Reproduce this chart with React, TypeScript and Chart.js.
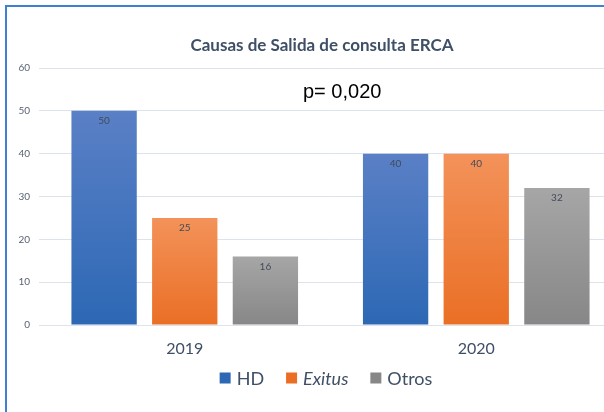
import React, { useEffect, useRef } from "react";
import { Chart, registerables } from "chart.js";

Chart.register(...registerables);

const categories = ["2019", "2020"];
const seriesNames = ["HD", "Exitus", "Otros"];
const hdValues = [50, 40];
const exitusValues = [25, 40];
const otrosValues = [16, 32];
const yTicks = [0, 10, 20, 30, 40, 50, 60];
const titleText = "Causas de Salida de consulta ERCA";
const pText = "p= 0,020";

const gradStops: [string, string][] = [
  ["#5a80c6", "#2d68b4"],
  ["#f3925a", "#ea6f25"],
  ["#a6a6a6", "#878787"],
];

const FONT = "Lato, 'Open Sans', sans-serif";
const TEXT_DARK = "#3f4f66";

function makeBg(dsIndex: number) {
  return (ctx: any) => {
    const chart = ctx.chart;
    const ys = chart.scales?.y;
    if (!ys || ctx.raw == null) return gradStops[dsIndex][1];
    const top = ys.getPixelForValue(ctx.raw);
    const bottom = ys.getPixelForValue(0);
    if (!isFinite(top) || !isFinite(bottom) || top === bottom) return gradStops[dsIndex][1];
    const g = chart.ctx.createLinearGradient(0, top, 0, bottom);
    g.addColorStop(0, gradStops[dsIndex][0]);
    g.addColorStop(1, gradStops[dsIndex][1]);
    return g;
  };
}

const overlayPlugin = {
  id: "overlay",
  afterDatasetsDraw(chart: any) {
    const { ctx } = chart;
    ctx.save();
    ctx.font = `10px ${FONT}`;
    ctx.fillStyle = "#404b5a";
    ctx.textAlign = "center";
    ctx.textBaseline = "middle";
    chart.data.datasets.forEach((ds: any, i: number) => {
      const meta = chart.getDatasetMeta(i);
      meta.data.forEach((bar: any, j: number) => {
        ctx.fillText(String(ds.data[j]), bar.x, bar.y + 10);
      });
    });
    ctx.restore();
  },
  afterDraw(chart: any) {
    const { ctx, chartArea } = chart;
    ctx.save();
    // title
    ctx.font = `bold 17px ${FONT}`;
    ctx.fillStyle = TEXT_DARK;
    ctx.textAlign = "center";
    ctx.textBaseline = "middle";
    ctx.fillText(titleText, 322, 46);
    // p-value
    ctx.font = "20px 'Liberation Sans', Arial, sans-serif";
    ctx.fillStyle = "#000000";
    ctx.textAlign = "left";
    ctx.textBaseline = "alphabetic";
    ctx.fillText(pText, 303, 98);
    // legend
    const cy = chartArea.bottom + 53;
    const box = 11;
    const gapText = 6;
    const gapItem = 22;
    const widths = seriesNames.map((n, i) => {
      ctx.font = `${i === 1 ? "italic " : ""}18px ${FONT}`;
      return ctx.measureText(n).width;
    });
    const total =
      widths.reduce((a, w) => a + box + gapText + w, 0) + gapItem * (seriesNames.length - 1);
    let x = 326 - total / 2;
    seriesNames.forEach((n, i) => {
      ctx.fillStyle = gradStops[i][1];
      ctx.fillRect(x, cy - box / 2, box, box);
      x += box + gapText;
      ctx.font = `${i === 1 ? "italic " : ""}18px ${FONT}`;
      ctx.fillStyle = TEXT_DARK;
      ctx.textAlign = "left";
      ctx.textBaseline = "middle";
      ctx.fillText(n, x, cy + 1);
      x += widths[i] + gapItem;
    });
    ctx.restore();
  },
};

export default function App() {
  const ref = useRef<HTMLCanvasElement | null>(null);
  useEffect(() => {
    if (!ref.current) return;
    const chart = new Chart(ref.current, {
      type: "bar",
      data: {
        labels: categories,
        datasets: [hdValues, exitusValues, otrosValues].map((d, i) => ({
          label: seriesNames[i],
          data: d,
          backgroundColor: makeBg(i),
          borderWidth: 0,
          categoryPercentage: 0.83,
          barPercentage: 0.81,
        })),
      },
      options: {
        animation: false,
        responsive: false,
        maintainAspectRatio: false,
        layout: { padding: { top: 68, left: 0, right: 18, bottom: 0 } },
        plugins: {
          legend: { display: false },
          title: { display: false },
          tooltip: { enabled: false },
        },
        scales: {
          x: {
            grid: { display: false },
            border: { display: false },
            ticks: {
              color: TEXT_DARK,
              font: { family: FONT, size: 16 },
              padding: 6,
            },
            afterFit: (s: any) => {
              s.height = 87;
            },
          },
          y: {
            min: 0,
            max: 60,
            afterBuildTicks: (s: any) => {
              s.ticks = yTicks.map((v) => ({ value: v }));
            },
            grid: { color: "#dde3ec", drawTicks: false, lineWidth: 1 },
            border: { display: false },
            ticks: {
              color: "#596273",
              font: { family: FONT, size: 10 },
              padding: 9,
            },
            afterFit: (s: any) => {
              s.width = 39;
            },
          },
        },
      },
      plugins: [overlayPlugin],
    });
    return () => chart.destroy();
  }, []);

  return (
    <div
      style={{
        position: "fixed",
        left: 0,
        top: 0,
        width: 604,
        height: 412,
        overflow: "hidden",
        background: "#ffffff",
      }}
    >
      <canvas
        ref={ref}
        width={640}
        height={412}
        style={{ position: "absolute", left: 0, top: 0, width: 640, height: 412 }}
      />
      <div
        style={{
          position: "absolute",
          left: 5,
          top: 5,
          width: 640,
          height: 405,
          borderTop: "2px solid #3f80d2",
          borderLeft: "2px solid #3f80d2",
          borderBottom: "1px solid #8eb0db",
          borderRight: "none",
          pointerEvents: "none",
        }}
      />
    </div>
  );
}
